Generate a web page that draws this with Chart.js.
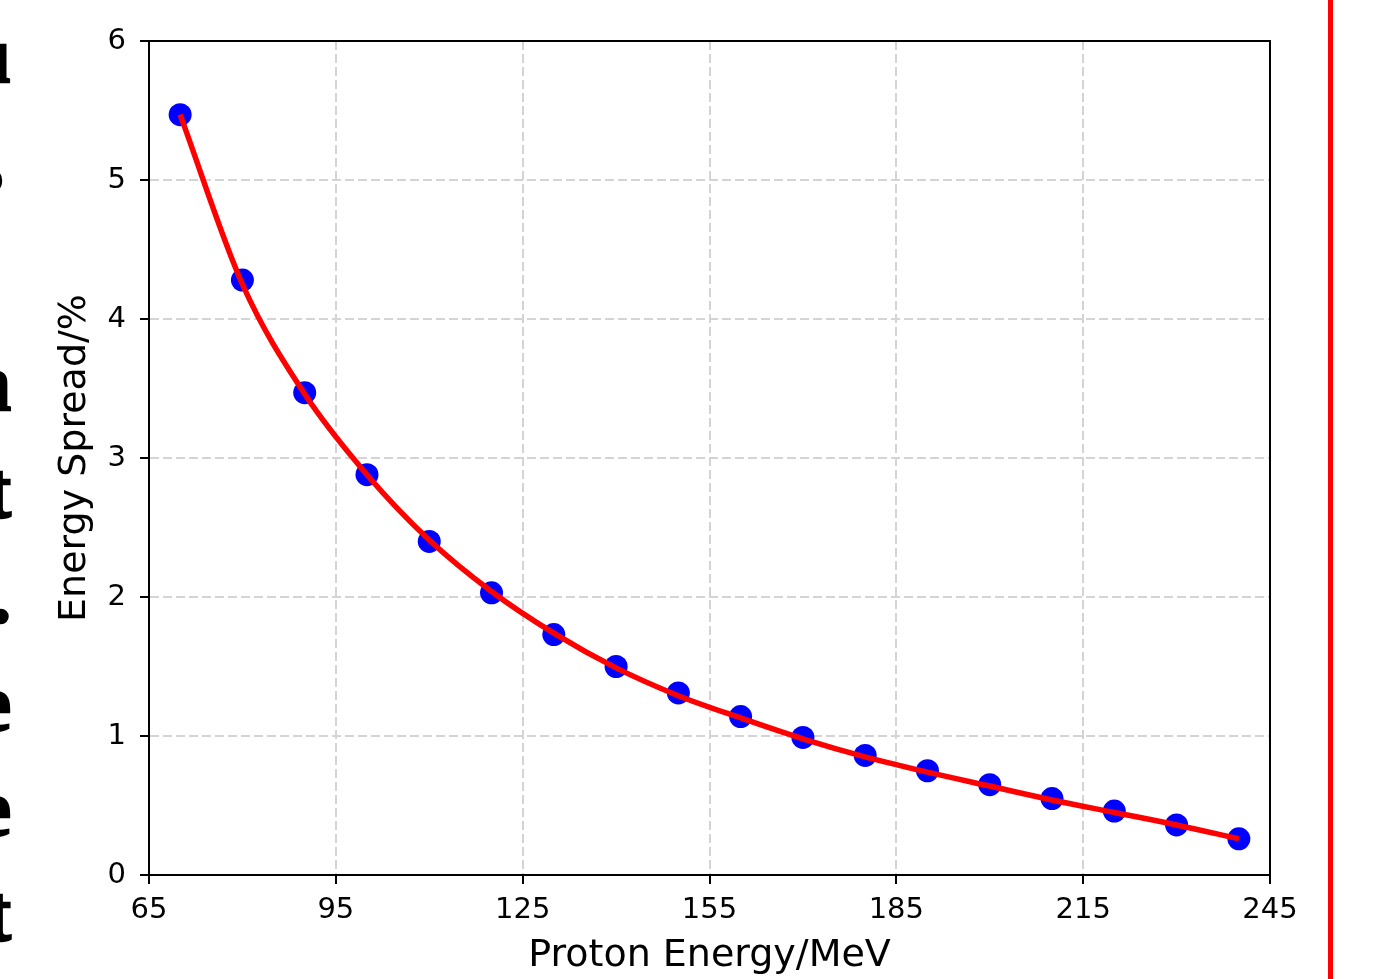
<!DOCTYPE html>
<html>
<head>
<meta charset="utf-8">
<script src="https://cdn.jsdelivr.net/npm/chart.js@4"></script>
<style>
  html, body { margin: 0; padding: 0; background: #fff; overflow: hidden; }
  #wrap { position: relative; width: 1374px; height: 979px; }
  #chart { position: absolute; left: 0; top: 0; }
  .cut { position: absolute; left: -100px; width: 111px; text-align: right;
         font-family: "Liberation Serif", "Times New Roman", serif; font-weight: 700;
         font-size: 80px; line-height: 80px; color: #000;
         -webkit-text-stroke: 2.5px #000; }
  #redline { position: absolute; left: 1328px; top: 0; width: 5px; height: 979px; background: #ff0000; }
</style>
</head>
<body>
<div id="wrap">
  <canvas id="chart" width="1374" height="979"></canvas>
  <div class="cut" style="top:15px">u</div>
  <div class="cut" style="top:125px; left:-108px">s</div>
  <div class="cut" style="top:343px">n</div>
  <div class="cut" style="top:450px">t</div>
  <div class="cut" style="top:555px">.</div>
  <div class="cut" style="top:663px">e</div>
  <div class="cut" style="top:768px">e</div>
  <div class="cut" style="top:873px">t</div>
  <div id="redline"></div>
</div>
<script>
// proton energy (MeV) of each simulated point
const energies = [70, 80, 90, 100, 110, 120, 130, 140, 150, 160, 170, 180, 190, 200, 210, 220, 230, 240];
// energy spread (%)
const spreadPoints = [5.47, 4.28, 3.47, 2.88, 2.40, 2.03, 1.73, 1.50, 1.31, 1.14, 0.99, 0.86, 0.75, 0.65, 0.55, 0.46, 0.36, 0.26];
// red fitted curve
const spreadFit = [5.47, 4.25, 3.46, 2.88, 2.41, 2.04, 1.74, 1.49, 1.29, 1.13, 0.98, 0.85, 0.74, 0.64, 0.54, 0.45, 0.36, 0.26];

const xTicks = [65, 95, 125, 155, 185, 215, 245];
const yTicks = [0, 1, 2, 3, 4, 5, 6];

Chart.defaults.font.family = 'DejaVu Sans';
Chart.defaults.color = '#000';

// top and right spines like matplotlib
const framePlugin = {
    id: 'frame',
    afterDatasetsDraw(chart) {
        const a = chart.chartArea;
        const ctx = chart.ctx;
        ctx.save();
        ctx.strokeStyle = '#000';
        ctx.lineWidth = 2;
        ctx.strokeRect(a.left, a.top, a.right - a.left, a.bottom - a.top);
        ctx.restore();
    }
};

const gridOpts = {
    color: '#d4d4d4',
    lineWidth: 2,
    tickColor: '#000',
    tickWidth: 2,
    tickLength: 9
};
const borderOpts = { display: true, color: '#000', width: 2, dash: [9, 4] };

const ctx = document.getElementById('chart').getContext('2d');
new Chart(ctx, {
    type: 'scatter',
    data: {
        datasets: [
            {
                type: 'line',
                label: 'fit',
                data: energies.map((e, i) => ({ x: e, y: spreadFit[i] })),
                borderColor: '#ff0000',
                borderWidth: 5.5,
                pointRadius: 0,
                cubicInterpolationMode: 'monotone',
                fill: false,
                order: 0
            },
            {
                label: 'data',
                data: energies.map((e, i) => ({ x: e, y: spreadPoints[i] })),
                backgroundColor: '#0000ff',
                borderWidth: 0,
                pointRadius: 11.5,
                order: 1
            }
        ]
    },
    options: {
        responsive: false,
        animation: false,
        layout: { padding: { top: 41, right: 104, left: 0, bottom: 0 } },
        plugins: { legend: { display: false }, tooltip: { enabled: false } },
        scales: {
            x: {
                type: 'linear',
                min: 65,
                max: 245,
                afterBuildTicks: scale => { scale.ticks = xTicks.map(v => ({ value: v })); },
                afterFit: scale => { scale.height = 104; },
                grid: gridOpts,
                border: borderOpts,
                ticks: { font: { size: 29 }, padding: 9, maxRotation: 0 },
                title: { display: true, text: 'Proton Energy/MeV', font: { size: 38 }, padding: { bottom: 0, top: 0 } }
            },
            y: {
                min: 0,
                max: 6,
                afterBuildTicks: scale => { scale.ticks = yTicks.map(v => ({ value: v })); },
                afterFit: scale => { scale.width = 149; },
                grid: gridOpts,
                border: borderOpts,
                ticks: { font: { size: 29 }, padding: 14 },
                title: { display: true, text: 'Energy Spread/%', font: { size: 38 }, padding: { top: 52, bottom: 0 } }
            }
        }
    },
    plugins: [framePlugin]
});
</script>
</body>
</html>
